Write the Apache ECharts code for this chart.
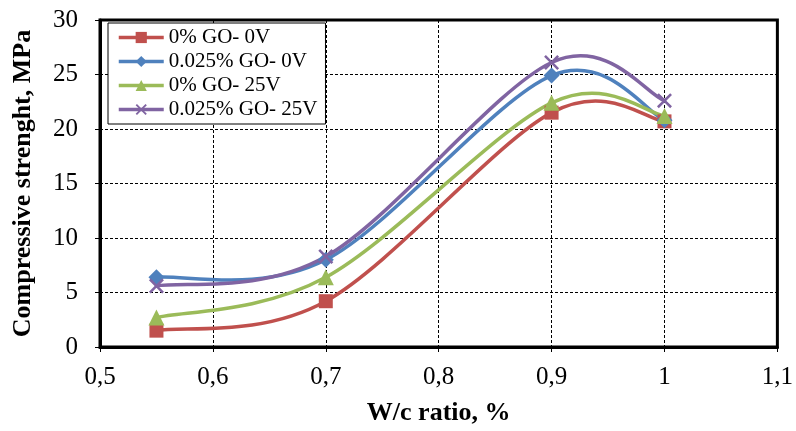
<!DOCTYPE html>
<html><head><meta charset="utf-8">
<script src="https://cdn.jsdelivr.net/npm/echarts@6/dist/echarts.min.js"></script>
<style>html,body{margin:0;padding:0;background:#fff}#c{width:796px;height:431px}</style>
</head><body><div id="c"></div>
<script>
var wcRatio = [0.55, 0.7, 0.9, 1.0];
var go0_0V = [1.5, 4.2, 21.5, 20.7];
var go025_0V = [6.4, 8.0, 24.9, 20.8];
var go0_25V = [2.7, 6.4, 22.4, 21.2];
var go025_25V = [5.6, 8.3, 26.1, 22.6];
var seriesNames = ['0% GO- 0V', '0.025% GO- 0V', '0% GO- 25V', '0.025% GO- 25V'];
var seriesColors = ['#C0504D', '#4F81BD', '#9BBB59', '#8064A2'];
var xTicks = ['0,5','0,6','0,7','0,8','0,9','1','1,1'];

var FONT = '"Liberation Serif", "Times New Roman", serif';
var xMark = 'path://M0,1.2L1.2,0L5,3.8L8.8,0L10,1.2L6.2,5L10,8.8L8.8,10L5,6.2L1.2,10L0,8.8L3.8,5Z';
function pts(ys){ return wcRatio.map(function(x,i){ return [x, ys[i]]; }); }

// Excel-like smoothed curve (Catmull-Rom as cubic Beziers) through the library's coordinate system
function curve(name, ys, color){
  return {
    name: name + ' (curve)', type: 'custom', data: pts(ys), z: 2, silent: true,
    renderItem: function(params, api){
      if (params.dataIndex !== 0) return null;
      var p = wcRatio.map(function(x,i){ return api.coord([x, ys[i]]); });
      var n = p.length, k = 1/6;
      var d = 'M' + p[0][0] + ',' + p[0][1];
      for (var i = 0; i < n - 1; i++){
        var p0 = p[Math.max(i-1,0)], p1 = p[i], p2 = p[i+1], p3 = p[Math.min(i+2,n-1)];
        var c1 = [p1[0] + (p2[0]-p0[0])*k, p1[1] + (p2[1]-p0[1])*k];
        var c2 = [p2[0] - (p3[0]-p1[0])*k, p2[1] - (p3[1]-p1[1])*k];
        d += 'C' + c1[0] + ',' + c1[1] + ' ' + c2[0] + ',' + c2[1] + ' ' + p2[0] + ',' + p2[1];
      }
      return {type: 'path', shape: {pathData: d}, style: {fill: null, stroke: color, lineWidth: 3.5, lineJoin: 'round', lineCap: 'round'}};
    }
  };
}
function marks(name, ys, color, symbol, size){
  return {
    name: name, type: 'line', data: pts(ys),
    symbol: symbol, symbolSize: size,
    lineStyle: {width: 3.5, color: color, opacity: 0},
    itemStyle: {color: color},
    z: 3
  };
}
var symbols = [['rect', 14], ['diamond', 16], ['triangle', 16], [xMark, 15]];
var dataSets = [go0_0V, go025_0V, go0_25V, go025_25V];
var series = [];
dataSets.forEach(function(ys, i){ series.push(curve(seriesNames[i], ys, seriesColors[i])); });
dataSets.forEach(function(ys, i){ series.push(marks(seriesNames[i], ys, seriesColors[i], symbols[i][0], symbols[i][1])); });

var chart = echarts.init(document.getElementById('c'));
chart.setOption({
  animation: false,
  backgroundColor: '#fff',
  grid: {left: 100, right: 16, top: 20, bottom: 78, show: true, borderColor: '#000', borderWidth: 3},
  legend: {
    left: 108, top: 23, orient: 'vertical',
    backgroundColor: '#fff', borderColor: '#000', borderWidth: 1,
    padding: [4, 8, 4, 9], itemGap: 3, itemWidth: 45, itemHeight: 14,
    textStyle: {fontFamily: FONT, fontSize: 21, color: '#000', lineHeight: 20},
    data: seriesNames.map(function(n, i){ return {name: n, lineStyle: {opacity: 1, width: 3.5, color: seriesColors[i]}}; })
  },
  xAxis: {
    type: 'value', min: 0.5, max: 1.1, interval: 0.1,
    name: 'W/c ratio, %', nameLocation: 'middle', nameGap: 53,
    nameTextStyle: {fontFamily: FONT, fontSize: 26, fontWeight: 'bold', color: '#000'},
    axisLine: {lineStyle: {color: '#000', width: 3}},
    axisTick: {show: true, inside: false, length: 5, lineStyle: {color: '#000'}},
    axisLabel: {fontFamily: FONT, fontSize: 25, color: '#000', margin: 18,
      formatter: function(v){ var i = Math.round((v-0.5)/0.1); return xTicks[i] || ''; }},
    splitLine: {show: true, lineStyle: {color: '#000', type: [3,2], width: 1}}
  },
  yAxis: {
    type: 'value', min: 0, max: 30, interval: 5,
    name: 'Compressive strenght, MPa', nameLocation: 'middle', nameGap: 64,
    nameTextStyle: {fontFamily: FONT, fontSize: 26, fontWeight: 'bold', color: '#000'},
    axisLine: {show: true, lineStyle: {color: '#000', width: 3}},
    axisTick: {show: true, inside: false, length: 5, lineStyle: {color: '#000'}},
    axisLabel: {fontFamily: FONT, fontSize: 25, color: '#000', margin: 22},
    splitLine: {show: true, lineStyle: {color: '#000', type: [3,2], width: 1}}
  },
  series: series
});
</script></body></html>
